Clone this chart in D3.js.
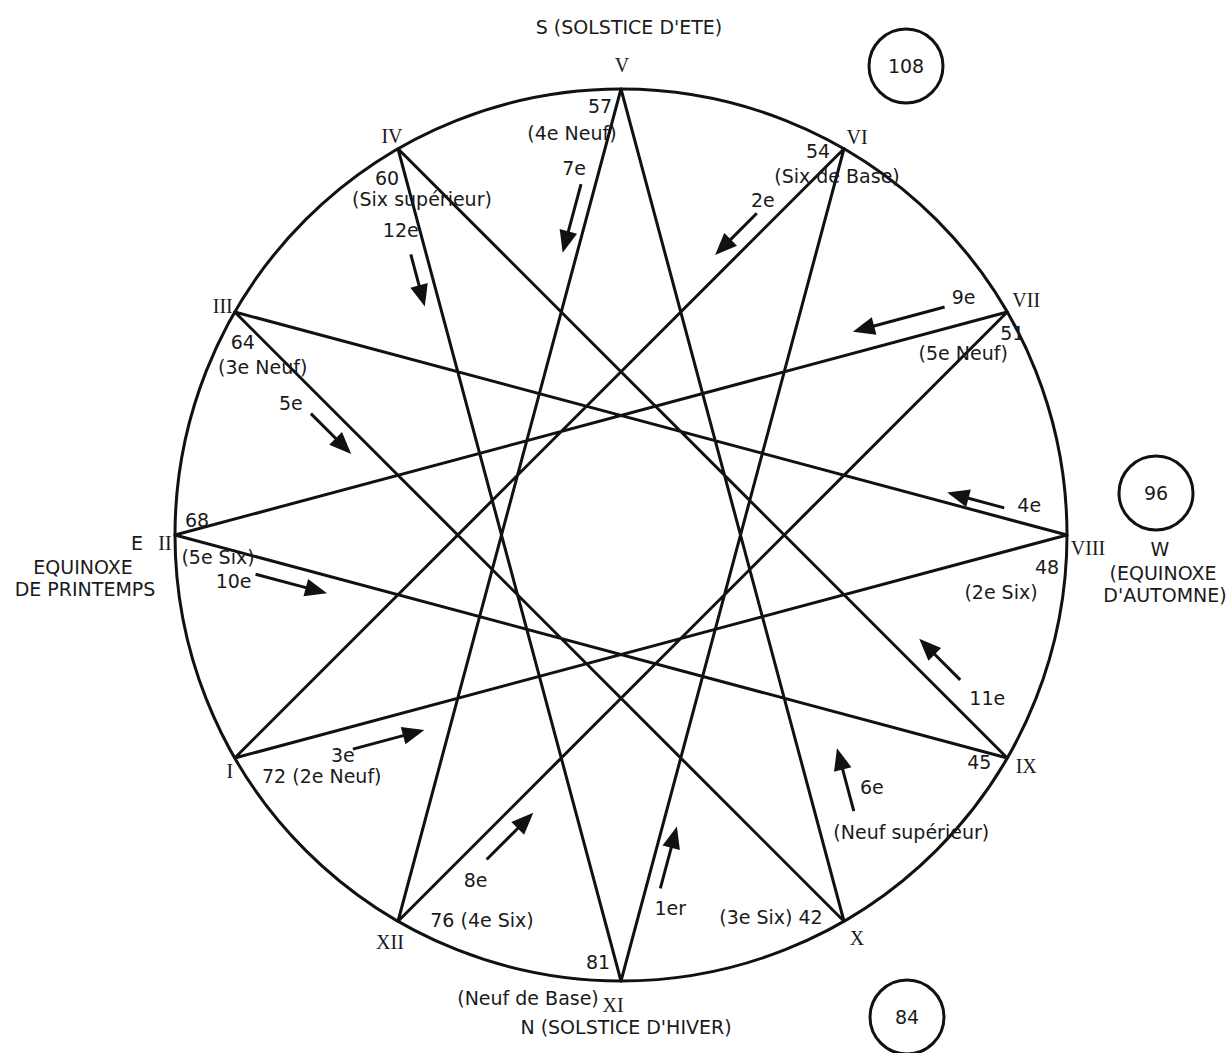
<!DOCTYPE html>
<html>
<head>
<meta charset="utf-8">
<script src="https://cdn.jsdelivr.net/npm/d3@7"></script>
<style>
	body { margin: 0; background: #fff; }
	svg { display: block; }
	.lbl { font-family: 'DejaVu Sans', Verdana, sans-serif; font-size: 19px; fill: #1a1a1a; }
	.roman { font-family: 'Liberation Serif', 'Times New Roman', serif; font-size: 20px; fill: #1a1a1a; }
</style>
</head>
<body>
<div id="chart"></div>
<script>
// points of the circle, clockwise from I
const numerals = ['I', 'II', 'III', 'IV', 'V', 'VI', 'VII', 'VIII', 'IX', 'X', 'XI', 'XII'];
const tones = [72, 68, 64, 60, 57, 54, 51, 48, 45, 42, 81, 76];
const toneNames = ['(2e Neuf)', '(5e Six)', '(3e Neuf)', '(Six supérieur)', '(4e Neuf)', '(Six de Base)',
	'(5e Neuf)', '(2e Six)', '(Neuf supérieur)', '(3e Six)', '(Neuf de Base)', '(4e Six)'];

// order in which the star is drawn
const pathOrder = ['XI', 'VI', 'I', 'VIII', 'III', 'X', 'V', 'XII', 'VII', 'II', 'IX', 'IV'];
const stepLabels = ['1er', '2e', '3e', '4e', '5e', '6e', '7e', '8e', '9e', '10e', '11e', '12e'];

const totals = [108, 96, 84];
const seasonS = ["S (SOLSTICE D'ETE)"];
const seasonE = ['E', 'EQUINOXE', 'DE PRINTEMPS'];
const seasonW = ['W', '(EQUINOXE', "D'AUTOMNE)"];
const seasonN = ["N (SOLSTICE D'HIVER)"];

const options = {
	width: 1231,
	height: 1053,
	cx: 621,
	cy: 535,
	radius: 446,
	stroke: 3,
	ink: '#111',
	headLen: 22,
	headHalf: 9
};

// layout: arrow tip as fraction along the edge, offset to the side, length, label offset from the tail
const arrowLayout = [
	{ t: 0.19, d: 14, len: 64, lx: 10, ly: 20 },
	{ t: 0.193, d: 16, len: 59, lx: 6, ly: -13 },
	{ t: 0.221, d: 22, len: 74, lx: -10, ly: 6 },
	{ t: 0.147, d: 10, len: 59, lx: 25, ly: -2 },
	{ t: 0.212, d: 18, len: 57, lx: -20, ly: -10 },
	{ t: 0.196, d: 38, len: 65, lx: 18, ly: -24 },
	{ t: 0.201, d: 14, len: 71, lx: -7, ly: -16 },
	{ t: 0.2, d: 19, len: 66, lx: -11, ly: 21 },
	{ t: 0.179, d: 21, len: 95, lx: 19, ly: -10 },
	{ t: 0.188, d: 17, len: 74, lx: -22, ly: 7 },
	{ t: 0.17, d: 22, len: 58, lx: 27, ly: 18 },
	{ t: 0.185, d: 15, len: 54, lx: -10, ly: -24 }
];

// layout: roman numeral offsets and tone label offsets, same order as numerals
const romanOffset = [[-5, 13], [-10, 8], [-12, -6], [-6, -13], [1, -24], [13, -12],
	[19, -12], [21, 13], [19, 8], [13, 17], [-8, 24], [-8, 21]];
const toneLayout = [
	{ inline: 'vn', at: [87, 18] },
	{ v: [22, -15], n: [43, 22] },
	{ v: [8, 30], n: [28, 55] },
	{ v: [-11, 30], n: [24, 51] },
	{ v: [-21, 17], n: [-49, 44] },
	{ v: [-26, 3], n: [-7, 28] },
	{ v: [5, 21], n: [-44, 41] },
	{ v: [-20, 32], n: [-66, 57] },
	{ v: [-28, 4], n: [-96, 74] },
	{ inline: 'nv', at: [-73, -4] },
	{ v: [-23, -19], n: [-93, 17] },
	{ inline: 'vn', at: [84, -1] }
];

const angle = d3.scaleLinear()
	.domain([1, 13])
	.range([-2 * Math.PI / 3, 4 * Math.PI / 3]);

function vertex(name) {
	const i = numerals.indexOf(name);
	const p = d3.pointRadial(angle(i + 1), options.radius);
	return [options.cx + p[0], options.cy + p[1]];
}

function addText($g, cls, txt, x, y, anchor) {
	return $g.append('text')
		.attr('class', cls)
		.attr('x', x)
		.attr('y', y)
		.attr('dy', '0.35em')
		.attr('text-anchor', anchor || 'middle')
		.text(txt);
}

function drawChart(containerId) {
	var $svg = d3.select(`#${containerId}`).append('svg')
		.attr('width', options.width)
		.attr('height', options.height);

	// outer circle
	$svg.append('circle')
		.attr('cx', options.cx)
		.attr('cy', options.cy)
		.attr('r', options.radius)
		.attr('fill', 'none')
		.attr('stroke', options.ink)
		.attr('stroke-width', options.stroke);

	// the star {12/5}
	const line = d3.line().curve(d3.curveLinearClosed);
	$svg.append('path')
		.attr('d', line(pathOrder.map(vertex)))
		.attr('fill', 'none')
		.attr('stroke', options.ink)
		.attr('stroke-width', options.stroke)
		.attr('stroke-linejoin', 'round');

	// arrows along each edge
	var $arrows = $svg.append('g');
	pathOrder.forEach((from, i) => {
		const a = vertex(from);
		const b = vertex(pathOrder[(i + 1) % pathOrder.length]);
		const L = Math.hypot(b[0] - a[0], b[1] - a[1]);
		const u = [(b[0] - a[0]) / L, (b[1] - a[1]) / L];
		const n = [-u[1], u[0]];
		const lay = arrowLayout[i];
		const tip = [a[0] + u[0] * L * lay.t + n[0] * lay.d, a[1] + u[1] * L * lay.t + n[1] * lay.d];
		const tail = [tip[0] - u[0] * lay.len, tip[1] - u[1] * lay.len];
		const base = [tip[0] - u[0] * options.headLen, tip[1] - u[1] * options.headLen];

		$arrows.append('line')
			.attr('x1', tail[0]).attr('y1', tail[1])
			.attr('x2', base[0] + u[0] * 2).attr('y2', base[1] + u[1] * 2)
			.attr('stroke', options.ink)
			.attr('stroke-width', options.stroke);
		$arrows.append('path')
			.attr('d', d3.line()([
				tip,
				[base[0] + n[0] * options.headHalf, base[1] + n[1] * options.headHalf],
				[base[0] - n[0] * options.headHalf, base[1] - n[1] * options.headHalf]
			]) + 'Z')
			.attr('fill', options.ink);

		addText($arrows, 'lbl', stepLabels[i], tail[0] + lay.lx, tail[1] + lay.ly);
	});

	// numerals, tones and their names
	var $labels = $svg.append('g');
	numerals.forEach((name, i) => {
		const p = vertex(name);
		addText($labels, 'roman', name, p[0] + romanOffset[i][0], p[1] + romanOffset[i][1]);
		const lay = toneLayout[i];
		if (lay.inline) {
			const txt = lay.inline === 'vn' ? `${tones[i]} ${toneNames[i]}` : `${toneNames[i]} ${tones[i]}`;
			addText($labels, 'lbl', txt, p[0] + lay.at[0], p[1] + lay.at[1]);
		} else {
			addText($labels, 'lbl', tones[i], p[0] + lay.v[0], p[1] + lay.v[1]);
			addText($labels, 'lbl', toneNames[i], p[0] + lay.n[0], p[1] + lay.n[1]);
		}
	});

	// the four cardinal points
	var $seasons = $svg.append('g');
	addText($seasons, 'lbl', seasonS[0], 629, 27);
	addText($seasons, 'lbl', seasonN[0], 626, 1027);
	[[137, 543], [83, 567], [85, 589]].forEach((d, i) => addText($seasons, 'lbl', seasonE[i], d[0], d[1]));
	[[1160, 549], [1163, 573], [1165, 595]].forEach((d, i) => addText($seasons, 'lbl', seasonW[i], d[0], d[1]));

	// circled totals
	const totalPos = [[906, 66], [1156, 493], [907, 1017]];
	var $totals = $svg.append('g')
		.selectAll('g')
		.data(totals)
		.enter()
		.append('g')
		.attr('transform', (d, i) => `translate(${totalPos[i][0]},${totalPos[i][1]})`);
	$totals.append('circle')
		.attr('r', 37)
		.attr('fill', 'none')
		.attr('stroke', options.ink)
		.attr('stroke-width', options.stroke);
	$totals.append('text')
		.attr('class', 'lbl')
		.attr('text-anchor', 'middle')
		.attr('dy', '0.35em')
		.text(d => d);
}

drawChart('chart');
</script>
</body>
</html>
